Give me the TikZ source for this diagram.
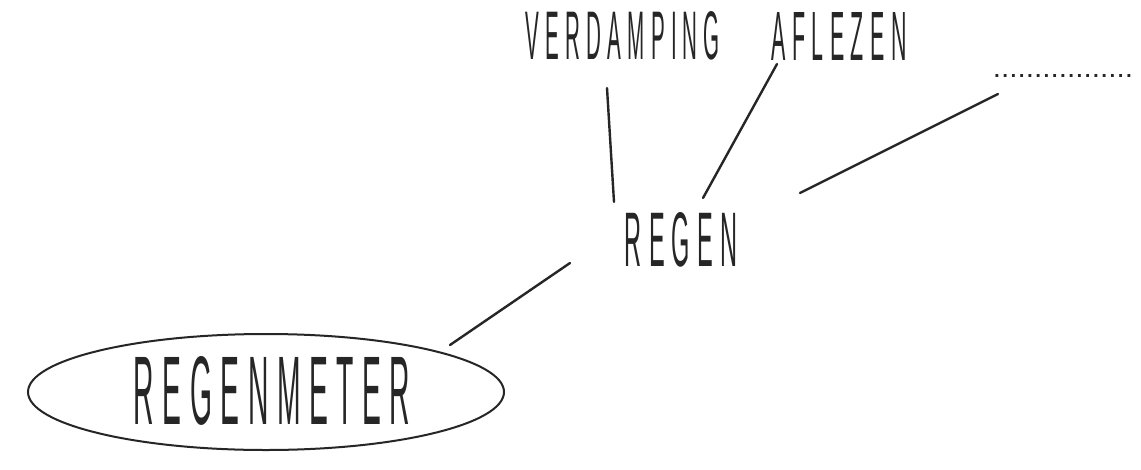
\documentclass[tikz,border=0pt]{standalone}
\usepackage{fontspec}
\usepackage{graphicx}
\newfontfamily\handfont[LetterSpace=30]{Liberation Sans}
\newfontfamily\dotfont{Liberation Sans}
\newcommand{\hw}[3]{\resizebox{#1}{#2}{\handfont #3}}
\tikzset{
  word/.style={inner sep=0pt, text=black!85},
  conn/.style={line width=2.4pt, draw=black!85, line cap=round},
  bubble/.style={draw=black!85, line width=2pt, ellipse, minimum width=476pt, minimum height=116pt, inner sep=0pt}
}
\usetikzlibrary{shapes.geometric}
\begin{document}
\begin{tikzpicture}[x=1pt,y=-1pt]
\useasboundingbox (0,0) rectangle (1141,469);
\fill[white] (0,0) rectangle (1141,469);
\node[bubble] (ell) at (266,392) {};
\node[word] (regenmeter) at (272,391) {\hw{276pt}{68pt}{REGENMETER}};
\node[word] (regen) at (681,240) {\hw{112pt}{54pt}{REGEN}};
\node[word] (verdamping) at (623,36) {\hw{194pt}{48pt}{VERDAMPING}};
\node[word] (aflezen) at (839,36) {\hw{135pt}{48pt}{AFLEZEN}};
\node[word] (dots) at (1063,76) {\resizebox{140pt}{3pt}{\dotfont .................}};
\coordinate (v1) at (607,88); \coordinate (v2) at (614,202);
\coordinate (a1) at (777,64); \coordinate (a2) at (703,198);
\coordinate (d1) at (998,94); \coordinate (d2) at (800,193);
\coordinate (r1) at (570,263); \coordinate (r2) at (450,345);
\draw[conn] (v1) -- (v2);
\draw[conn] (a1) -- (a2);
\draw[conn] (d1) -- (d2);
\draw[conn] (r1) -- (r2);
\end{tikzpicture}
\end{document}
